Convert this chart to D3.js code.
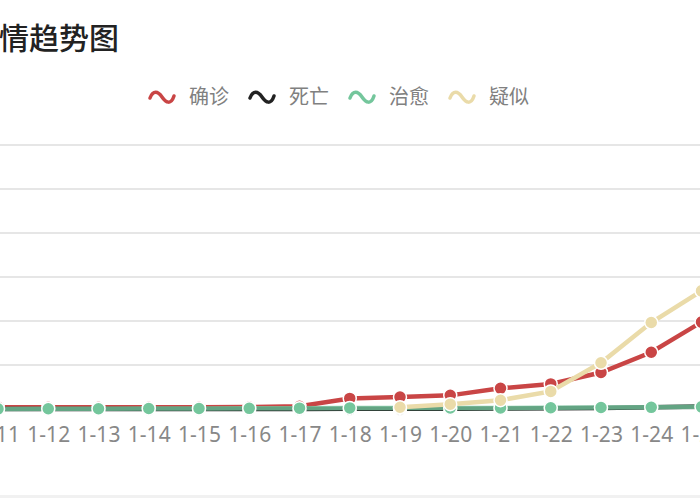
<!DOCTYPE html>
<html>
<head>
<meta charset="utf-8">
<script src="https://cdn.jsdelivr.net/npm/d3@7"></script>
<style>
  html, body { margin: 0; padding: 0; background: #fff; overflow: hidden; }
  svg { display: block; font-family: "Noto Sans", "Noto Sans CJK SC", sans-serif; }
</style>
</head>
<body>
<div id="chart"></div>
<script>
// dates on the x axis
const dates = ["1-11", "1-12", "1-13", "1-14", "1-15", "1-16", "1-17", "1-18",
               "1-19", "1-20", "1-21", "1-22", "1-23", "1-24", "1-25"];

// series values
const confirmed = [41, 41, 41, 41, 41, 45, 62, 240, 270, 310, 470, 570, 830, 1290, 1975];
const dead      = [1, 1, 1, 1, 2, 2, 2, 3, 4, 6, 9, 17, 25, 41, 56];
const cured     = [2, 6, 7, 12, 12, 15, 19, 25, 25, 25, 25, 28, 34, 38, 49];
const suspected = [null, null, null, null, null, null, null, null, 40, 110, 200, 400, 1050, 1965, 2684];

const seriesNames = ["确诊", "死亡", "治愈", "疑似"];
const yTicks = [0, 1000, 2000, 3000, 4000, 5000, 6000];

const width = 700, height = 500;

const colors = {
    "确诊": "#c94545",
    "死亡": "#222222",
    "治愈": "#74c69c",
    "疑似": "#eadba9"
};

const series = [
    { name: "确诊", values: confirmed },
    { name: "死亡", values: dead },
    { name: "治愈", values: cured },
    { name: "疑似", values: suspected }
];

const svg = d3.select("#chart").append("svg")
    .attr("width", width)
    .attr("height", height);

// the picture is a crop, so the plot runs past both edges
const x = d3.scalePoint()
    .domain(dates)
    .range([-2, 701.5]);

const y = d3.scaleLinear()
    .domain([0, 6000])
    .range([409, 145]);

// title (first character cut off by the crop)
svg.append("text")
    .attr("x", -31)
    .attr("y", 38)
    .attr("dy", "0.35em")
    .style("font-size", "30px")
    .style("font-weight", "500")
    .style("fill", "#222")
    .text("疫情趋势图");

// legend
const legend = svg.append("g")
    .attr("transform", "translate(150, 97)");

const legendItems = legend.selectAll("g")
    .data(seriesNames)
    .enter().append("g")
    .attr("transform", (d, i) => `translate(${i * 100}, 0)`);

legendItems.append("path")
    .attr("d", "M0,1 C3,-7 8,-6 12,0 S21,8 24,-1")
    .attr("fill", "none")
    .attr("stroke", d => colors[d])
    .attr("stroke-width", 3.5)
    .attr("stroke-linecap", "round");

legendItems.append("text")
    .attr("x", 39)
    .attr("y", 0)
    .attr("dy", "0.35em")
    .style("font-size", "20px")
    .style("fill", "#808080")
    .text(d => d);

// horizontal grid lines
svg.append("g")
    .selectAll("line")
    .data(yTicks)
    .enter().append("line")
    .attr("x1", 0)
    .attr("x2", width)
    .attr("y1", d => y(d))
    .attr("y2", d => y(d))
    .attr("stroke", "#dedede")
    .attr("stroke-width", 1.5);

// x axis labels
const xAxis = d3.axisBottom(x).tickSize(0).tickPadding(0);
const xg = svg.append("g")
    .attr("transform", "translate(0, 427)")
    .call(xAxis);
xg.select(".domain").remove();
xg.selectAll("text")
    .attr("dy", "0.71em")
    .style("font-size", "21px")
    .style("font-family", "\"Noto Sans\", sans-serif")
    .style("fill", "#888");

// faint line at the bottom of the crop
svg.append("rect")
    .attr("x", 0)
    .attr("y", 495)
    .attr("width", width)
    .attr("height", 3)
    .attr("fill", "#f1f1f1");

// series
const line = d3.line()
    .defined(d => d != null)
    .x((d, i) => x(dates[i]))
    .y(d => y(d));

series.forEach(s => {
    const g = svg.append("g");
    g.append("path")
        .datum(s.values)
        .attr("d", line)
        .attr("fill", "none")
        .attr("stroke", colors[s.name])
        .attr("stroke-width", 4.5)
        .attr("opacity", s.name === "治愈" ? 0.8 : 1);

    g.selectAll("circle")
        .data(s.values.map((v, i) => ({ date: dates[i], value: v })).filter(d => d.value != null))
        .enter().append("circle")
        .attr("cx", d => x(d.date))
        .attr("cy", d => y(d.value))
        .attr("r", 6.5)
        .attr("fill", colors[s.name])
        .attr("stroke", "#fff")
        .attr("stroke-width", 1.5);
});
</script>
</body>
</html>
